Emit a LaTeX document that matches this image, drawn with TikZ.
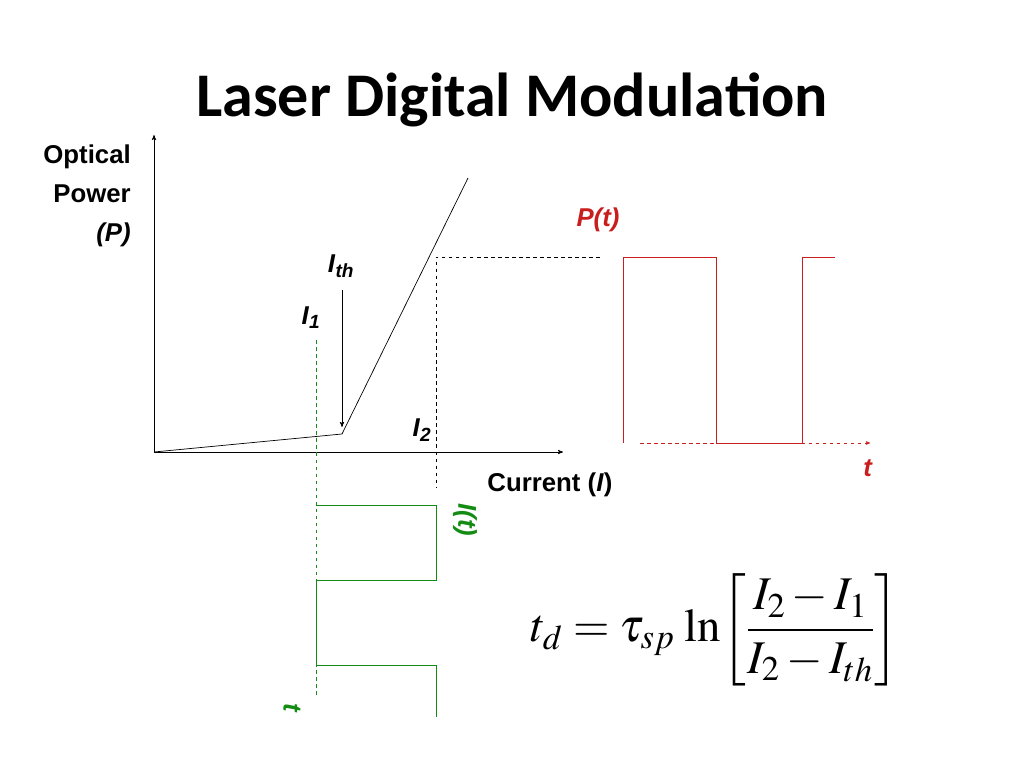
\documentclass[tikz,border=0pt]{standalone}
\usepackage{amsmath}
\usepackage{mathptmx}
\usepackage[no-math]{fontspec}
\setmainfont{Liberation Serif}
\setsansfont{Liberation Sans}
\newfontfamily\titlefont{Carlito}
\usetikzlibrary{arrows}
\definecolor{laserred}{RGB}{200,30,30}
\definecolor{drivegreen}{RGB}{20,140,20}
\begin{document}
\begin{tikzpicture}[x=0.03cm,y=-0.03cm,>=stealth',semithick,
    axis line/.style={->},
    guide line/.style={dashed,thin},
    label text/.style={font=\sffamily\bfseries\fontsize{22}{25}\selectfont},
    red wave/.style={laserred,thick},
    green wave/.style={drivegreen,thick}]
  \useasboundingbox (0,0) rectangle (1024,768);
  \node[font=\titlefont\bfseries\fontsize{53}{60}\selectfont] (title) at (512,100) {Laser Digital Modulation};
  % axes
  \coordinate (origin) at (154,452);
  \coordinate (ytop) at (154,135);
  \coordinate (xend) at (563,452);
  \draw[axis line] (origin) -- (ytop);
  \draw[axis line] (origin) -- (xend);
  \node[label text,align=right,anchor=east,font=\sffamily\bfseries\fontsize{22}{33}\selectfont] (ylab) at (135,196) {Optical\\Power\\\textit{(P)}};
  \node[label text] (xlab) at (550,485) {Current (\textit{I})};
  % L-I curve
  \coordinate (knee) at (342,434);
  \coordinate (top) at (468,178);
  \draw (origin) -- (knee) -- (top);
  \coordinate (ithstart) at (342,290);
  \draw[->] (ithstart) -- ([yshift=6]knee);
  \node[label text] (ith) at (341,266) {\textit{I}$_{\textsf{\textit{th}}}$};
  \node[label text] (i1) at (311,318) {\textit{I}$_{\textsf{\textit{1}}}$};
  \node[label text] (i2) at (422,430) {\textit{I}$_{\textsf{\textit{2}}}$};
  % guides
  \coordinate (g1) at (436,257);
  \coordinate (g2) at (600,257);
  \coordinate (g3) at (436,487);
  \draw[guide line] (g2) -- (g1) -- (g3);
  \coordinate (gr1) at (316,340);
  \coordinate (gr2) at (316,698);
  \draw[guide line,drivegreen] (gr1) -- (gr2);
  % optical output
  \node[label text,laserred] (pt) at (598,220) {\textit{P(t)}};
  \draw[red wave] (623,443) -- (623,257) -- (716,257) -- (716,443) -- (802,443) -- (802,257) -- (835,257);
  \coordinate (ta) at (640,443);
  \coordinate (tb) at (870,443);
  \draw[->,guide line,laserred] (ta) -- (tb);
  \node[label text,laserred] (tr) at (868,468) {\textit{t}};
  % drive current
  \draw[green wave] (316,505) -- (436,505) -- (436,580) -- (316,580) -- (316,665) -- (436,665) -- (436,717);
  \node[label text,drivegreen,rotate=-90] (it) at (465,520) {\textit{I(t)}};
  \node[label text,drivegreen,rotate=-90] (tg) at (292,708) {\textit{t}};
  % formula
  \node[font=\fontsize{40}{46}\selectfont] (eq) at (715,630)
    {$t_d=\tau_{sp}\,\ln\!\left[\dfrac{I_2-I_1}{I_2-I_{th}}\right]$};
\end{tikzpicture}
\end{document}
